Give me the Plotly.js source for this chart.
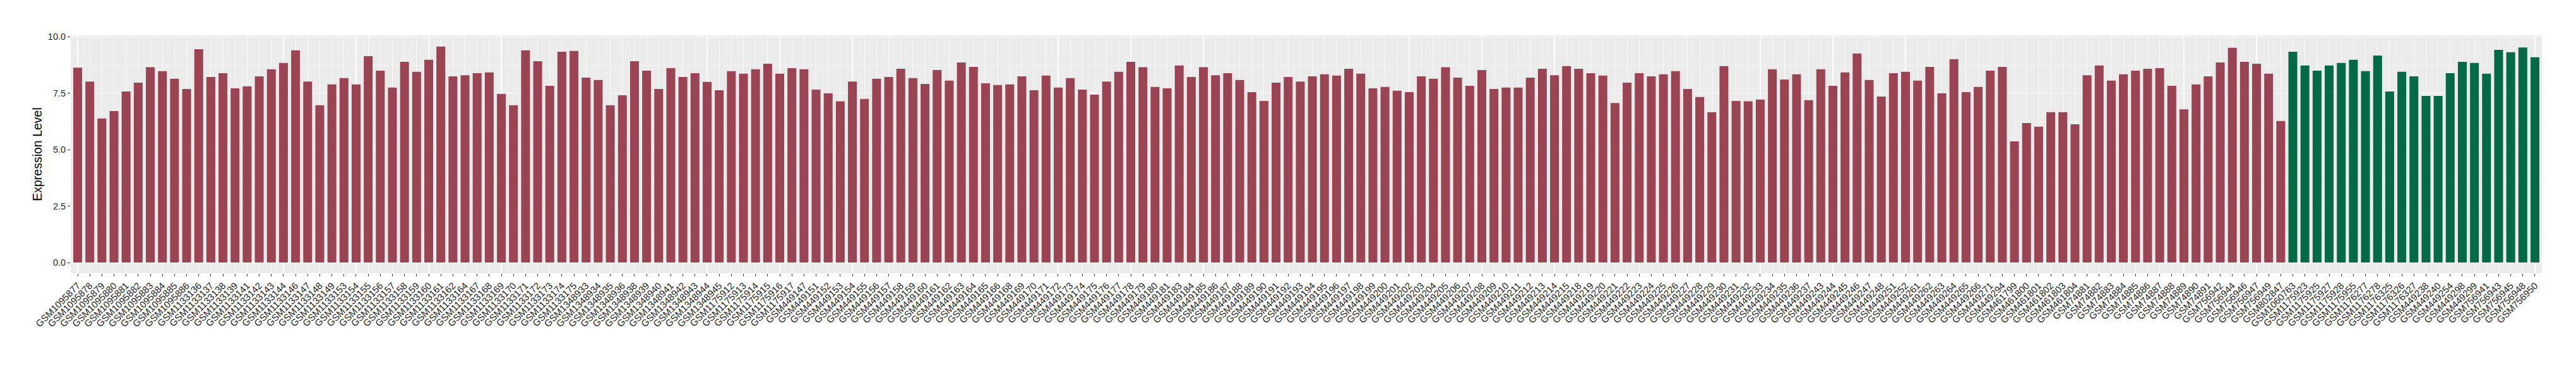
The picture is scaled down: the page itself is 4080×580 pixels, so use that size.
<!DOCTYPE html>
<html>
<head>
<meta charset="utf-8">
<script src="https://cdn.plot.ly/plotly-3.0.1.min.js"></script>
<style>html,body{margin:0;padding:0;background:#fff;}#chart{width:4080px;height:580px;}</style>
</head>
<body>
<div id="chart"></div>
<script>
const redSamples = [
"GSM1095877","GSM1095878","GSM1095879","GSM1095880","GSM1095881","GSM1095882","GSM1095883","GSM1095884","GSM1095885","GSM1095886",
"GSM1133136","GSM1133137","GSM1133138","GSM1133139","GSM1133141","GSM1133142","GSM1133143","GSM1133144","GSM1133146","GSM1133147",
"GSM1133148","GSM1133149","GSM1133153","GSM1133154","GSM1133155","GSM1133156","GSM1133157","GSM1133158","GSM1133159","GSM1133160",
"GSM1133161","GSM1133162","GSM1133164","GSM1133167","GSM1133168","GSM1133169","GSM1133170","GSM1133171","GSM1133172","GSM1133173",
"GSM1133174","GSM1133175",
"GSM1348933","GSM1348934","GSM1348935","GSM1348936","GSM1348938","GSM1348939","GSM1348940","GSM1348941","GSM1348942","GSM1348943",
"GSM1348944","GSM1348945",
"GSM1175912","GSM1175913","GSM1175914","GSM1175915","GSM1175916","GSM1175917",
"GSM449147","GSM449151","GSM449152","GSM449153","GSM449154","GSM449155","GSM449156","GSM449157","GSM449158","GSM449159",
"GSM449160","GSM449161","GSM449162","GSM449163","GSM449164","GSM449165","GSM449166","GSM449168","GSM449169","GSM449170",
"GSM449171","GSM449172","GSM449173","GSM449174","GSM449175","GSM449176","GSM449177","GSM449178","GSM449179","GSM449180",
"GSM449181","GSM449183","GSM449184","GSM449185","GSM449186","GSM449187","GSM449188","GSM449189","GSM449190","GSM449191",
"GSM449192","GSM449193","GSM449194","GSM449195","GSM449196","GSM449197","GSM449198","GSM449199","GSM449200","GSM449201",
"GSM449202","GSM449203","GSM449204","GSM449205","GSM449206","GSM449207","GSM449208","GSM449209","GSM449210","GSM449211",
"GSM449212","GSM449213","GSM449214","GSM449215","GSM449218","GSM449219","GSM449220","GSM449221","GSM449222","GSM449223",
"GSM449224","GSM449225","GSM449226","GSM449227","GSM449228","GSM449229","GSM449230","GSM449231","GSM449232","GSM449233",
"GSM449234","GSM449235","GSM449236","GSM449237","GSM449243","GSM449244","GSM449245","GSM449246","GSM449247","GSM449248",
"GSM449251","GSM449252","GSM449261","GSM449262","GSM449263","GSM449264","GSM449265","GSM449266","GSM449271","GSM449294",
"GSM461799","GSM461800","GSM461801","GSM461802","GSM461803","GSM461804",
"GSM74881","GSM74882","GSM74883","GSM74884","GSM74885","GSM74886","GSM74887","GSM74888","GSM74889","GSM74890","GSM74891",
"GSM756942","GSM756944","GSM756946","GSM756947","GSM756949","GSM802847"
];
const redValues = [
8.63,8.02,6.38,6.71,7.58,7.97,8.65,8.48,8.14,7.69,
9.45,8.22,8.39,7.72,7.81,8.25,8.56,8.84,9.40,8.02,
6.97,7.89,8.17,7.89,9.14,8.50,7.75,8.89,8.45,8.98,
9.57,8.25,8.30,8.39,8.42,7.47,6.97,9.40,8.92,7.83,
9.34,9.37,
8.19,8.09,6.97,7.41,8.92,8.50,7.69,8.61,8.22,8.39,
8.00,7.63,
8.48,8.37,8.56,8.81,8.37,8.61,
8.56,7.66,7.50,7.14,8.02,7.25,8.14,8.22,8.58,8.17,
7.91,8.53,8.06,8.86,8.67,7.94,7.86,7.89,8.25,7.63,
8.28,7.75,8.17,7.66,7.44,8.02,8.45,8.89,8.65,7.78,
7.72,8.73,8.22,8.65,8.30,8.39,8.09,7.55,7.16,7.97,
8.22,8.02,8.25,8.34,8.28,8.58,8.37,7.72,7.78,7.61,
7.55,8.25,8.14,8.65,8.19,7.83,8.53,7.69,7.75,7.75,
8.19,8.58,8.30,8.70,8.58,8.39,8.28,7.07,7.97,8.39,
8.25,8.34,8.48,7.69,7.33,6.66,8.70,7.16,7.14,7.22,
8.56,8.11,8.34,7.19,8.56,7.83,8.42,9.26,8.09,7.35,
8.39,8.45,8.06,8.67,7.50,9.01,7.55,7.78,8.50,8.67,
5.37,6.18,6.02,6.66,6.66,6.12,
8.30,8.73,8.06,8.34,8.50,8.58,8.61,7.83,6.79,7.89,8.25,
8.86,9.51,8.89,8.81,8.37,6.27
];
const greenSamples = [
"GSM1060763","GSM1175923","GSM1175925","GSM1175927","GSM1175928","GSM1175955","GSM1176277","GSM1176278","GSM1176325","GSM1176326",
"GSM1176327","GSM449238","GSM449240","GSM449254","GSM449298","GSM449299","GSM756941","GSM756943","GSM756945","GSM756948","GSM756950"
];
const greenValues = [
9.34,8.73,8.50,8.73,8.84,8.98,8.48,9.17,7.58,8.45,
8.25,7.38,7.38,8.39,8.89,8.84,8.37,9.42,9.32,9.53,9.09
];
const yTickVals = [0, 2.5, 5, 7.5, 10];
const yTickText = ["0.0", "2.5", "5.0", "7.5", "10.0"];
const yTitle = "Expression Level";

const redColor = "#9A4352";
const greenColor = "#036947";
const font = "Liberation Sans, Arial, Helvetica, sans-serif";

const traces = [
  {type: "bar", x: redSamples, y: redValues, marker: {color: redColor}, showlegend: false, hoverinfo: "x+y"},
  {type: "bar", x: greenSamples, y: greenValues, marker: {color: greenColor}, showlegend: false, hoverinfo: "x+y"}
];

const layout = {
  width: 4080, height: 580,
  margin: {l: 112, r: 54, t: 56, b: 147, pad: 0},
  paper_bgcolor: "#ffffff",
  plot_bgcolor: "#EBEBEB",
  bargap: 0.27,
  showlegend: false,
  font: {family: font, color: "#333333"},
  xaxis: {
    type: "category",
    categoryorder: "array",
    categoryarray: redSamples.concat(greenSamples),
    range: [-0.575, redSamples.length + greenSamples.length - 1 + 0.575],
    tickangle: -45,
    tickfont: {family: font, size: 15, color: "#1f1f1f"},
    ticks: "outside", ticklen: 4, tickwidth: 1, tickcolor: "#333333",
    showgrid: true, gridcolor: "#ffffff", gridwidth: 1.1,
    zeroline: false, showline: false,
    automargin: false, fixedrange: true
  },
  yaxis: {
    range: [-0.475, 10.065],
    tickvals: yTickVals, ticktext: yTickText,
    tickfont: {family: font, size: 14.5, color: "#1f1f1f"},
    ticks: "outside", ticklen: 4, tickwidth: 1, tickcolor: "#333333",
    showgrid: true, gridcolor: "#ffffff", gridwidth: 1.1,
    minor: {tickvals: [1.25, 3.75, 6.25, 8.75], showgrid: true, gridcolor: "#ffffff", gridwidth: 0.5, ticks: ""},
    zeroline: false, showline: false,
    title: {text: yTitle, font: {family: font, size: 19.5, color: "#000000"}, standoff: 4},
    automargin: false, fixedrange: true
  }
};

Plotly.newPlot("chart", traces, layout, {displayModeBar: false, staticPlot: true});
</script>
</body>
</html>
